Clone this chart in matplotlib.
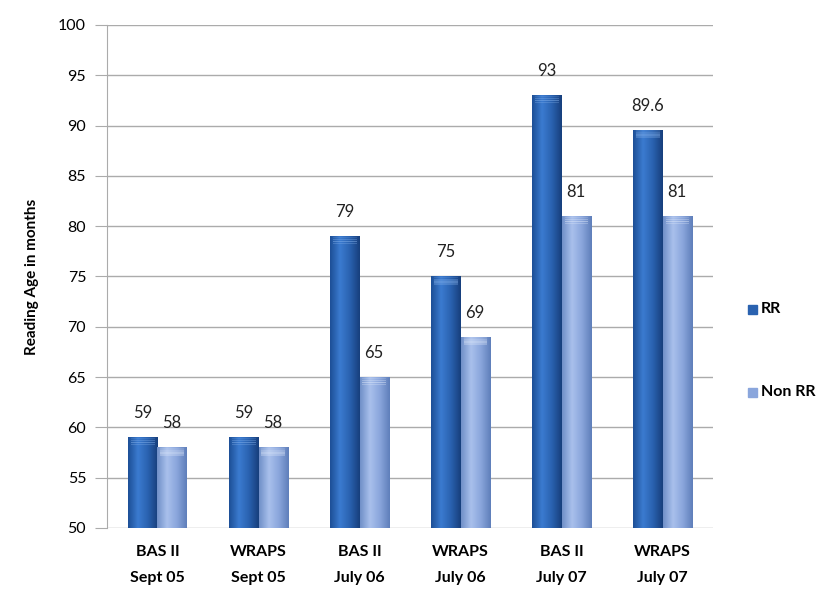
import matplotlib.pyplot as plt
import numpy as np
from matplotlib.colors import LinearSegmentedColormap

plt.rcParams['font.family'] = ['Lato', 'DejaVu Sans']

groups = ["BAS II\nSept 05", "WRAPS\nSept 05", "BAS II\nJuly 06",
          "WRAPS\nJuly 06", "BAS II\nJuly 07", "WRAPS\nJuly 07"]
rr = [59, 59, 79, 75, 93, 89.6]
non_rr = [58, 58, 65, 69, 81, 81]
value_labels_rr = ["59", "59", "79", "75", "93", "89.6"]
value_labels_non = ["58", "58", "65", "69", "81", "81"]

fig = plt.figure(figsize=(8.39, 5.89), dpi=100)
ax = fig.add_axes([0.1275, 0.1036, 0.7225, 0.854])

x = np.arange(len(groups))
w = 0.29

rr_cmap = LinearSegmentedColormap.from_list("rr", ["#1d4f96", "#3b7bd0", "#2a62b0", "#173f7c"])
non_cmap = LinearSegmentedColormap.from_list("non", ["#7090c8", "#a9c0ec", "#8aa6dc", "#5f7fba"])
grad = np.linspace(0, 1, 64).reshape(1, -1)

def shaded_bars(xs, vals, cmap, cap):
    bars = ax.bar(xs, [v - 50 for v in vals], w, bottom=50, color="none", zorder=3)
    for b in bars:
        x0, y0 = b.get_x(), b.get_y()
        bw, bh = b.get_width(), b.get_height()
        im = ax.imshow(grad, cmap=cmap, aspect="auto", extent=[x0, x0 + bw, y0, y0 + bh],
                       zorder=3, interpolation="bicubic")
        im.set_clip_path(b)
        # soft bevel on the top of each bar
        for k, a in enumerate([0.15, 0.3, 0.45, 0.3]):
            ax.fill_between([x0 + bw * 0.1, x0 + bw * 0.9],
                            y0 + bh - 0.2 * (k + 1), y0 + bh - 0.2 * k - 0.05,
                            color=cap, alpha=a, zorder=4, lw=0)
    return bars

shaded_bars(x - w / 2, rr, rr_cmap, "#8ab6ee")
shaded_bars(x + w / 2, non_rr, non_cmap, "#e2ebfb")

for i in range(len(groups)):
    ax.text(x[i] - w / 2, rr[i] + 1.6, value_labels_rr[i], ha="center", va="bottom",
            fontsize=12, color="#222222")
    ax.text(x[i] + w / 2, non_rr[i] + 1.6, value_labels_non[i], ha="center", va="bottom",
            fontsize=12, color="#222222")

ax.set_xlim(-0.5, len(groups) - 0.5)
ax.set_ylim(50, 100)
ax.set_yticks(range(50, 101, 5))
ax.yaxis.grid(True, color="#ababab", lw=1)
ax.set_axisbelow(True)
ax.set_xticks(x)
ax.set_xticklabels(groups, fontweight="bold", fontsize=11.5, linespacing=2.1)
ax.tick_params(axis="x", length=0, pad=12)
ax.tick_params(axis="y", length=9, color="#ababab", labelsize=11.5, pad=6)
for s in ["top", "right", "bottom"]:
    ax.spines[s].set_visible(False)
ax.spines["left"].set_color("#ababab")
ax.set_ylabel("Reading Age in months", fontweight="bold", fontsize=11, labelpad=14)

# legend
fig.patches.append(plt.Rectangle((748 / 839, 1 - 314 / 589), 9 / 839, 9 / 589,
                                 transform=fig.transFigure, color="#2a62b0"))
fig.patches.append(plt.Rectangle((748 / 839, 1 - 397 / 589), 9 / 839, 9 / 589,
                                 transform=fig.transFigure, color="#8aa6dc"))
fig.text(761 / 839, 1 - 309 / 589, "RR", fontweight="bold", fontsize=11.5, va="center")
fig.text(761 / 839, 1 - 392 / 589, "Non RR", fontweight="bold", fontsize=11.5, va="center")

fig.savefig("out.png", dpi=100)
